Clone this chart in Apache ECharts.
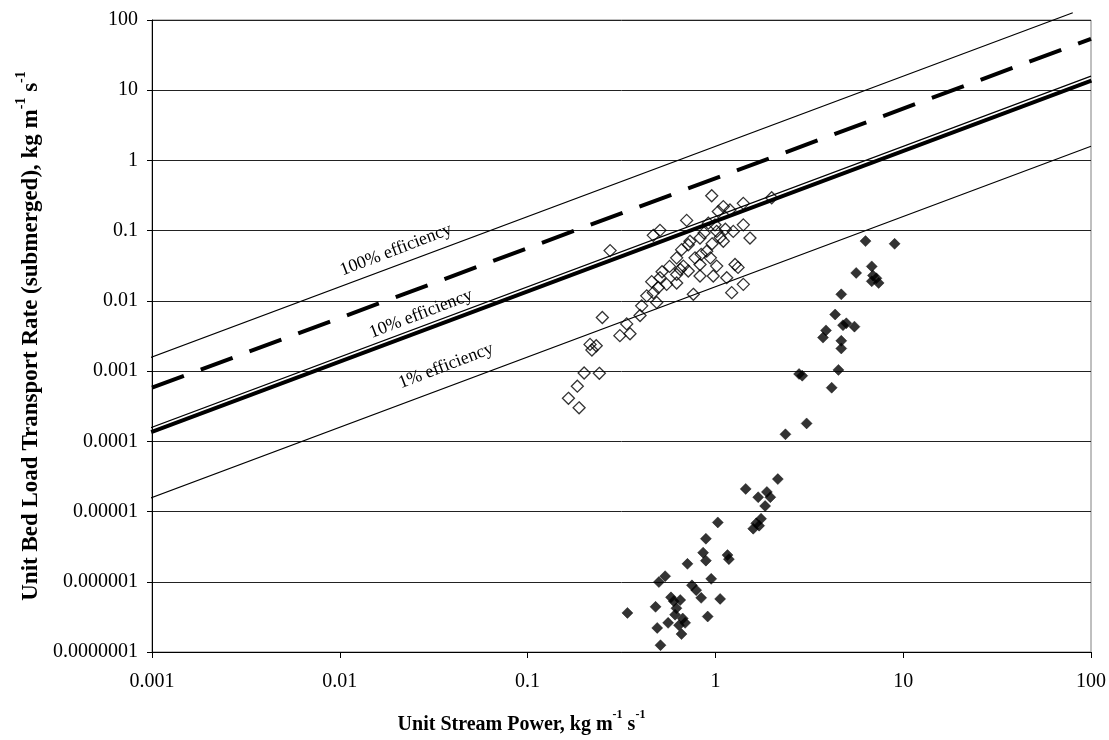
<!DOCTYPE html>
<html><head><meta charset="utf-8">
<script src="https://cdn.jsdelivr.net/npm/echarts@6/dist/echarts.min.js"></script>
<style>html,body{margin:0;padding:0;background:#fff}#c{width:1109px;height:740px}</style>
</head><body><div id="c"></div>
<script>
const xTickLabels = ['0.001','0.01','0.1','1','10','100'];
const yTickLabels = ['0.0000001','0.000001','0.00001','0.0001','0.001','0.01','0.1','1','10','100'];

const openX = [0.165,0.184,0.188,0.200,0.241,0.215,0.220,0.232,0.250,0.275,0.310,0.337,0.351,0.397,0.405,0.431,0.467,0.487,0.497,0.458,0.507,0.550,0.622,0.622,0.717,0.650,0.675,0.622,0.661,0.467,0.507,0.703,0.717,0.732,0.828,0.779,0.828,0.840,0.899,0.940,0.828,0.974,0.763,1.016,1.149,1.221,1.272,1.320,1.408,1.016,1.102,1.245,1.528,0.917,0.995,0.870,1.408,1.036,1.102,1.196,1.408,0.956,1.994,1.06,1.13,0.96,0.57,0.52];
const openY = [0.00041,0.00061,0.00030,0.00094,0.00093,0.0024,0.0020,0.0023,0.0058,0.052,0.0032,0.0047,0.0034,0.0062,0.0085,0.0118,0.0131,0.0095,0.0155,0.0188,0.0214,0.0172,0.018,0.0238,0.0266,0.028,0.0313,0.041,0.0537,0.0857,0.101,0.140,0.0631,0.0705,0.0785,0.041,0.033,0.046,0.051,0.041,0.0226,0.0226,0.0124,0.0313,0.0214,0.0131,0.033,0.030,0.0172,0.0976,0.0705,0.0976,0.0785,0.128,0.121,0.093,0.121,0.187,0.220,0.197,0.245,0.314,0.294,0.080,0.105,0.065,0.031,0.026];

const filledX = [0.34,0.48,0.49,0.51,0.50,0.54,0.56,0.58,0.60,0.61,0.62,0.64,0.66,0.67,0.69,0.65,0.71,0.75,0.79,0.84,0.86,0.89,0.89,0.91,0.95,1.03,1.06,1.16,1.18,1.45,1.59,1.65,1.71,1.75,1.69,1.84,1.88,1.96,2.15,2.36,2.79,2.90,3.06,3.74,3.88,4.16,4.34,4.52,4.68,4.68,4.68,4.78,4.98,5.5,5.62,6.3,6.8,6.9,7.2,6.8,7.4,9.0];
const filledY = [3.6e-7,4.4e-7,2.2e-7,1.25e-7,9.9e-7,1.2e-6,2.6e-7,6.0e-7,5.3e-7,3.4e-7,4.2e-7,2.4e-7,1.8e-7,3.0e-7,2.6e-7,5.5e-7,1.8e-6,8.9e-7,7.6e-7,5.9e-7,2.6e-6,4.1e-6,2.0e-6,3.2e-7,1.1e-6,7.0e-6,5.7e-7,2.4e-6,2.1e-6,2.1e-5,5.7e-6,6.8e-6,6.3e-6,7.9e-6,1.6e-5,1.2e-5,1.9e-5,1.6e-5,2.9e-5,1.26e-4,9.1e-4,8.6e-4,1.8e-4,3.0e-3,3.8e-3,5.8e-4,6.4e-3,1.04e-3,0.0124,2.7e-3,2.1e-3,4.5e-3,4.8e-3,4.3e-3,0.025,0.071,0.031,0.023,0.021,0.019,0.018,0.065];

// reference lines (end points)
const eff100X = [0.00092, 80],  eff100Y = [0.00146, 127];
const eff10X  = [0.00092, 100], eff10Y  = [0.000146, 15.9];
const eff1X   = [0.00092, 100], eff1Y   = [0.0000146, 1.59];
const fitX    = [0.00099, 100.5], fitY  = [0.000135, 13.7];
const dashX   = [0.001, 100],   dashY   = [0.00058, 54];

const effLabels = ['100% efficiency', '10% efficiency', '1% efficiency'];

const FONT = "'Liberation Serif','Times New Roman',serif";
const zip = (a, b) => a.map((v, i) => [v, b[i]]);

const chart = echarts.init(document.getElementById('c'), null, {renderer: 'canvas'});

function lineSeries(xs, ys, style) {
  return {type: 'line', data: zip(xs, ys), showSymbol: false, symbol: 'none', clip: false, silent: true,
    lineStyle: Object.assign({color: '#000', width: 1}, style), z: 2, animation: false};
}

function rich(size, lh) {
  return {
    b: {fontFamily: FONT, fontWeight: 'bold', fontSize: size, color: '#000', lineHeight: lh, verticalAlign: 'bottom'},
    s: {fontFamily: FONT, fontWeight: 'bold', fontSize: Math.round(size * 0.62), color: '#000', lineHeight: lh, verticalAlign: 'top'}
  };
}

const rot = 21 * Math.PI / 180;
const labelPos = [[396, 250], [421, 314], [446, 366]];

chart.setOption({
  animation: false,
  backgroundColor: '#fff',
  grid: {left: 152, right: 18, top: 20, bottom: 83, show: true, borderColor: '#808080', borderWidth: 1, backgroundColor: 'transparent'},
  xAxis: {
    type: 'log', logBase: 10, min: 0.001, max: 100, splitNumber: 5,
    axisLine: {show: true, lineStyle: {color: '#000', width: 1}},
    axisTick: {show: true, inside: false, length: 6, lineStyle: {color: '#000'}},
    minorTick: {show: false},
    splitLine: {show: false},
    axisLabel: {fontFamily: FONT, fontSize: 20, color: '#000', margin: 20,
      formatter: v => xTickLabels[Math.round(Math.log10(v)) + 3]},
    name: '{b|Unit Stream Power, kg m}{s|-1}{b| s}{s|-1}',
    nameLocation: 'middle', nameGap: 57,
    nameTextStyle: {rich: rich(20, 26), padding: [0, 200, 0, 0]}
  },
  yAxis: {
    type: 'log', logBase: 10, min: 1e-7, max: 100, splitNumber: 9,
    axisLine: {show: true, lineStyle: {color: '#000', width: 1}},
    axisTick: {show: true, inside: false, length: 5, lineStyle: {color: '#000'}},
    minorTick: {show: false},
    splitLine: {show: true, lineStyle: {color: '#222', width: 1}},
    axisLabel: {fontFamily: FONT, fontSize: 20, color: '#000', margin: 14,
      formatter: v => yTickLabels[Math.round(Math.log10(v)) + 7]},
    name: '{b|Unit Bed Load Transport Rate (submerged), kg m}{s|-1}{b| s}{s|-1}',
    nameLocation: 'middle', nameGap: 108,
    nameTextStyle: {rich: rich(23, 28)}
  },
  series: [
    lineSeries(eff100X, eff100Y, {width: 1.2}),
    lineSeries(eff10X, eff10Y, {width: 1.2}),
    lineSeries(eff1X, eff1Y, {width: 1.2}),
    lineSeries(fitX, fitY, {width: 4}),
    lineSeries(dashX, dashY, {width: 4, type: [34, 18], cap: 'butt'}),
    {type: 'scatter', data: zip(openX, openY), symbol: 'diamond', symbolSize: 12, z: 3,
      itemStyle: {color: 'transparent', borderColor: '#000', borderWidth: 1.3}},
    {type: 'scatter', data: zip(filledX, filledY), symbol: 'diamond', symbolSize: 11, z: 3,
      itemStyle: {color: '#000', borderColor: '#000', borderWidth: 0.5}}
  ],
  graphic: effLabels.map((t, i) => ({
    type: 'text', x: labelPos[i][0], y: labelPos[i][1], rotation: rot, z: 10,
    style: {text: t, fontFamily: FONT, fontSize: 18, fill: '#000', align: 'center', verticalAlign: 'middle'}
  }))
});
</script>
</body></html>
